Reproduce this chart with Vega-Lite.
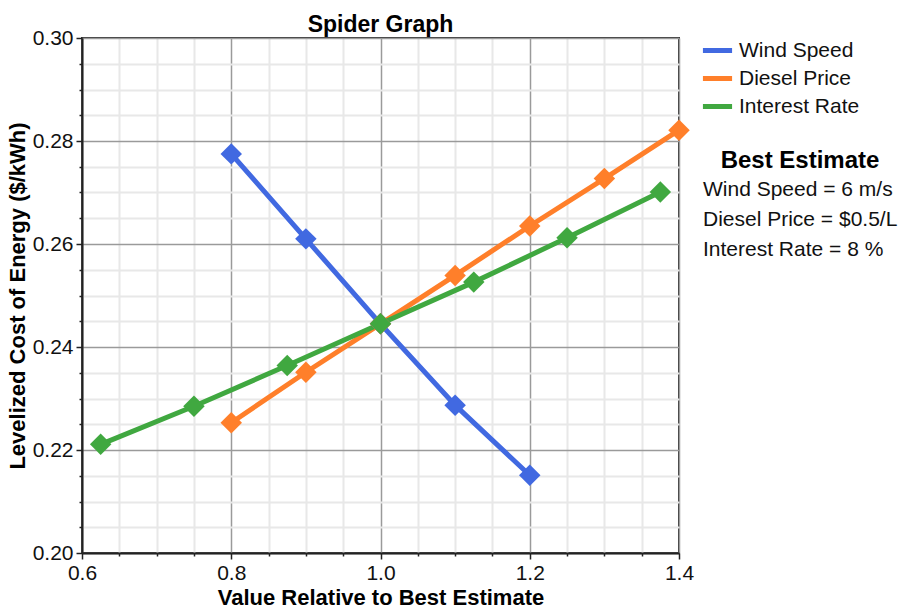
{
  "$schema": "https://vega.github.io/schema/vega-lite/v6.json",
  "width": 597,
  "height": 515,
  "autosize": {"type": "none"},
  "padding": {"left": 82, "top": 38, "right": 223, "bottom": 55},
  "title": {"text": "Spider Graph", "font": "Liberation Sans", "fontSize": 23, "fontWeight": "bold", "color": "#000", "anchor": "middle", "offset": -10},
  "config": {
    "view": {"stroke": "#333", "strokeWidth": 2},
    "axis": {"labelFont": "Liberation Sans", "labelFontSize": 21, "labelColor": "#111", "titleFont": "Liberation Sans", "titleFontSize": 22, "titleFontWeight": "bold", "titleColor": "#000", "domainColor": "#222", "domainWidth": 2, "tickColor": "#222", "tickWidth": 1.5, "labelOverlap": false, "labelBound": false, "labelFlush": false},
    "legend": {"labelFont": "Liberation Sans", "labelFontSize": 21, "labelColor": "#111", "titleFont": "Liberation Sans", "labelLimit": 400}
  },
  "datasets": {
    "series": [
      {"variable": "Wind Speed", "relative": 0.8, "coe": 0.2775},
      {"variable": "Wind Speed", "relative": 0.9, "coe": 0.2610},
      {"variable": "Wind Speed", "relative": 1.0, "coe": 0.2445},
      {"variable": "Wind Speed", "relative": 1.1, "coe": 0.2287},
      {"variable": "Wind Speed", "relative": 1.2, "coe": 0.2151},
      {"variable": "Diesel Price", "relative": 0.8, "coe": 0.2253},
      {"variable": "Diesel Price", "relative": 0.9, "coe": 0.2351},
      {"variable": "Diesel Price", "relative": 1.0, "coe": 0.2445},
      {"variable": "Diesel Price", "relative": 1.1, "coe": 0.2539},
      {"variable": "Diesel Price", "relative": 1.2, "coe": 0.2635},
      {"variable": "Diesel Price", "relative": 1.3, "coe": 0.2727},
      {"variable": "Diesel Price", "relative": 1.4, "coe": 0.2821},
      {"variable": "Interest Rate", "relative": 0.625, "coe": 0.2211},
      {"variable": "Interest Rate", "relative": 0.75, "coe": 0.2285},
      {"variable": "Interest Rate", "relative": 0.875, "coe": 0.2364},
      {"variable": "Interest Rate", "relative": 1.0, "coe": 0.2445},
      {"variable": "Interest Rate", "relative": 1.125, "coe": 0.2526},
      {"variable": "Interest Rate", "relative": 1.25, "coe": 0.2612},
      {"variable": "Interest Rate", "relative": 1.375, "coe": 0.2701}
    ],
    "info": [
      {"label": "Wind Speed = 6 m/s"},
      {"label": "Diesel Price = $0.5/L"},
      {"label": "Interest Rate = 8 %"}
    ]
  },
  "encoding": {
    "x": {
      "field": "relative", "type": "quantitative",
      "scale": {"domain": [0.6, 1.4], "nice": false, "zero": false},
      "axis": {
        "title": "Value Relative to Best Estimate",
        "values": [0.6, 0.65, 0.7, 0.75, 0.8, 0.85, 0.9, 0.95, 1.0, 1.05, 1.1, 1.15, 1.2, 1.25, 1.3, 1.35, 1.4],
        "labelExpr": "abs(round(datum.value*20) % 4) == 0 ? format(datum.value, '.1f') : ''",
        "tickSize": {"condition": {"test": "abs(round(datum.value*20) % 4) == 0", "value": 6}, "value": 3},
        "gridColor": {"condition": {"test": "abs(round(datum.value*20) % 4) == 0", "value": "#9a9a9a"}, "value": "#e8e8e8"},
        "gridWidth": {"condition": {"test": "abs(round(datum.value*20) % 4) == 0", "value": 1.5}, "value": 2},
        "gridOpacity": 1,
        "labelPadding": 3,
        "titlePadding": 4
      }
    },
    "y": {
      "field": "coe", "type": "quantitative",
      "scale": {"domain": [0.2, 0.3], "nice": false, "zero": false},
      "axis": {
        "title": "Levelized Cost of Energy ($/kWh)",
        "values": [0.2, 0.205, 0.21, 0.215, 0.22, 0.225, 0.23, 0.235, 0.24, 0.245, 0.25, 0.255, 0.26, 0.265, 0.27, 0.275, 0.28, 0.285, 0.29, 0.295, 0.3],
        "labelExpr": "abs(round(datum.value*1000) % 20) == 0 ? format(datum.value, '.2f') : ''",
        "tickSize": {"condition": {"test": "abs(round(datum.value*1000) % 20) == 0", "value": 6}, "value": 3},
        "gridColor": {"condition": {"test": "abs(round(datum.value*1000) % 20) == 0", "value": "#9a9a9a"}, "value": "#e8e8e8"},
        "gridWidth": {"condition": {"test": "abs(round(datum.value*1000) % 20) == 0", "value": 1.5}, "value": 2},
        "gridOpacity": 1,
        "labelPadding": 3,
        "titlePadding": 3
      }
    }
  },
  "layer": [
    {
      "data": {"name": "series"},
      "mark": {"type": "line", "strokeWidth": 5, "clip": false},
      "encoding": {
        "color": {
          "field": "variable", "type": "nominal",
          "scale": {"domain": ["Wind Speed", "Diesel Price", "Interest Rate"], "range": ["#4169E1", "#FF7F2A", "#40A840"]},
          "legend": {
            "title": null, "orient": "none", "legendX": 618, "legendY": -5,
            "symbolType": "stroke", "symbolSize": 850, "symbolStrokeWidth": 5,
            "labelOffset": 4, "rowPadding": -3,
            "encode": {"symbols": {"update": {"stroke": {"scale": "color", "field": "value"}, "strokeWidth": {"value": 5}}}}
          }
        }
      }
    },
    {
      "data": {"name": "series"},
      "mark": {"type": "point", "shape": "diamond", "filled": true, "size": 460, "opacity": 1, "clip": false},
      "encoding": {
        "color": {"field": "variable", "type": "nominal", "legend": null}
      }
    },
    {
      "data": {"name": "info"},
      "mark": {"type": "point", "opacity": 0},
      "encoding": {
        "x": {"datum": 1.0},
        "y": {"datum": 0.25},
        "shape": {
          "field": "label", "type": "nominal",
          "scale": {"domain": ["Wind Speed = 6 m/s", "Diesel Price = $0.5/L", "Interest Rate = 8 %"]},
          "legend": {
            "title": "Best Estimate", "orient": "none", "legendX": 621, "legendY": 111,
            "titleFontSize": 24, "titleFontWeight": "bold", "titleColor": "#000", "titleAnchor": "middle", "titlePadding": 6,
            "symbolSize": 0, "symbolOpacity": 0, "symbolStrokeWidth": 0, "labelOffset": -21, "rowPadding": 8
          }
        }
      }
    }
  ]
}
